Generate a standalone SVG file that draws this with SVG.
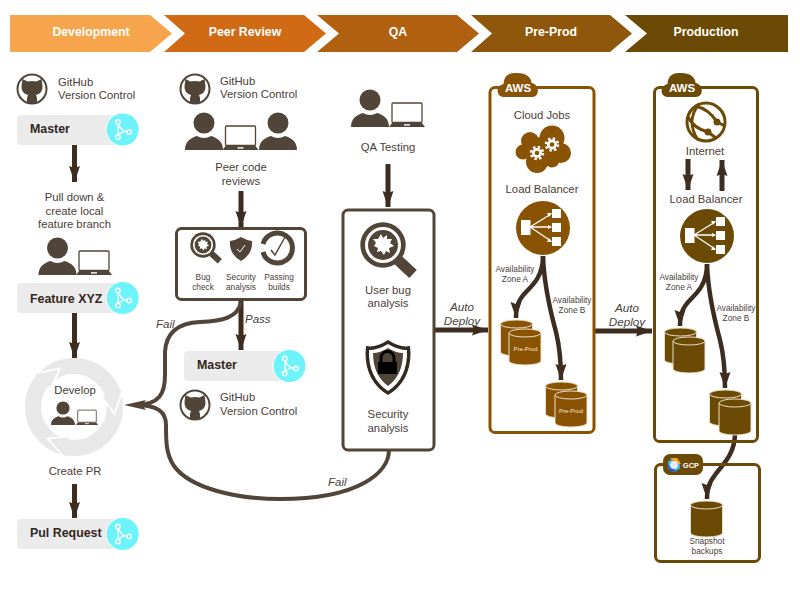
<svg xmlns="http://www.w3.org/2000/svg" width="800" height="600" viewBox="0 0 800 600">
<style>
text{font-family:"Liberation Sans",Arial,sans-serif;fill:#4a4038}
.h{font-size:12.300px;font-weight:bold;fill:#fff;text-anchor:middle}
.t{font-size:11.300px}
.c{font-size:11.300px;text-anchor:middle}
.s{font-size:8.300px;text-anchor:middle}
.i{font-size:11.500px;font-style:italic}
.ic{font-size:11.700px;font-style:italic;text-anchor:middle}
.b{font-size:12.400px;font-weight:bold;fill:#33261b}
.pill{fill:#ebebeb}
.arrow{fill:none;stroke:#3d2c20;stroke-width:5}
.thin{fill:none;stroke:#504538;stroke-width:4}
.curve{fill:none;stroke:#3d2c20;stroke-width:4.500}
.box{fill:#fff;stroke:#504538;stroke-width:3}
.aws1{fill:none;stroke:#8a5304;stroke-width:3}
.aws2{fill:none;stroke:#6b4a05;stroke-width:3}
.awst{font-size:11.500px;font-weight:bold;fill:#fff;text-anchor:middle}
.pp{font-size:6px;fill:#f3e8d5;text-anchor:middle}
</style>
<defs>
<marker id="head" markerUnits="userSpaceOnUse" markerWidth="18" markerHeight="12" refX="16" refY="6" orient="auto"><path d="M0,0.500 L16,6 L0,11.500 L2,6 Z" fill="#3d2c20"/></marker>
<symbol id="github" overflow="visible"><circle r="14.500" fill="#fff" stroke="#504538" stroke-width="2"/><path d="M-9.500,-10 L-4.500,-7.500 Q0,-8.500 4.500,-7.500 L9.500,-10 L10.500,-3 Q11,4 4,6 L5,9 L5,14 L-5,14 L-5,9 L-4,6 Q-11,4 -10.500,-3 Z" fill="#504538"/></symbol>
<symbol id="branch" overflow="visible"><circle r="16.500" fill="#6df3f9" stroke="#fff" stroke-width="1"/><g fill="none" stroke="#fff" stroke-width="1.400"><path d="M-4.500,-5.500 L-4.500,5.500 M-4,-5 Q-1,2 4.500,2.500 M-4.500,5 L1,2"/><circle cx="-4.700" cy="-7.500" r="2.200"/><circle cx="-4.700" cy="7.500" r="2.200"/><circle cx="6.500" cy="2.500" r="2.200"/></g></symbol>
<symbol id="person" overflow="visible"><circle cy="-27" r="10.500" fill="#504538"/><path d="M-19,0 C-19,-8 -14,-12 -7,-14 Q0,-10 7,-14 C14,-12 19,-8 19,0 Z" fill="#504538"/></symbol>
<symbol id="laptop" overflow="visible"><rect x="-15" y="-24" width="30" height="19.500" rx="1" fill="#fff" stroke="#504538" stroke-width="1.300"/><path d="M-18,0 L-15,-4 L15,-4 L18,0 Z" fill="#504538"/><rect x="-3" y="-2.800" width="6" height="1.400" fill="#fff"/></symbol>
<symbol id="lens" overflow="visible"><path d="M15,15 L30,29" stroke="#504538" stroke-width="11"/><circle r="22.700" fill="#504538"/><circle r="18" fill="#fff"/><circle r="15" fill="#504538"/><path d="M-2,-11 L0,-7 L4,-10 L4,-6 L9,-6 L7,-2 L11,1 L6,3 L7,8 L3,6 L1,10 L-2,6 L-6,7 L-5,3 L-9,1 L-7,-2 L-10,-6 L-5,-6 Z" fill="#fff"/></symbol>
<symbol id="gear" overflow="visible"><circle r="5" fill="#fff"/><circle r="6" fill="none" stroke="#fff" stroke-width="2.500" stroke-dasharray="2.400 2.310"/><circle r="2.300" fill="#8a5304"/></symbol>
<symbol id="aws" overflow="visible"><path d="M-13,10 C-22,10 -22,-1 -14,-3 C-13,-14 -6,-14 0,-14 C8,-14 14,-10 14,-4 C22,-3 23,10 14,10 Z"/></symbol>
<symbol id="lb" overflow="visible"><g fill="#fff"><rect x="-22" y="-8" width="9.500" height="15"/><rect x="9" y="-19" width="9" height="9"/><rect x="9" y="-5" width="9" height="9"/><rect x="9" y="9" width="9" height="9"/></g><path d="M-13,-1 L8,-14 M-13,-1 L8,-1 M-13,-1 L8,13" stroke="#fff" stroke-width="1.300" fill="none"/><path d="M9,-15 L4,-15 L6,-11 Z M9,-1 L5,-3 L5,1 Z M9,14 L6,10 L4,14 Z" fill="#fff"/></symbol>
<symbol id="cyl" overflow="visible"><path d="M-16,0 L-16,28 A16,4 0 0 0 16,28 L16,0 Z" stroke="#eadfc8" stroke-width="1"/><ellipse rx="16" ry="4" stroke="#eadfc8" stroke-width="1"/></symbol>
<symbol id="cychead" overflow="visible"><path d="M122.900,389.200 L114.400,414.100 L102.200,396.700 Z" fill="#e8e8e8"/><path d="M122.900,389.200 L114.400,414.100 L102.200,396.700" fill="none" stroke="#fff" stroke-width="1.800"/></symbol>
</defs>

<g id="headers">
<g id="h-development"><path d="M10,15 H150 L172,33.500 L150,52 H10 Z" fill="#f7a54c"/><text class="h" x="91" y="36">Development</text></g>
<g id="h-peer"><path d="M164,15 H304 L326,33.500 L304,52 H164 L185,33.500 Z" fill="#d16a14"/><text class="h" x="245" y="36">Peer Review</text></g>
<g id="h-qa"><path d="M317,15 H457 L479,33.500 L457,52 H317 L339,33.500 Z" fill="#b0600f"/><text class="h" x="398" y="36">QA</text></g>
<g id="h-preprod"><path d="M471,15 H610 L632,33.500 L610,52 H471 L492,33.500 Z" fill="#8f570b"/><text class="h" x="551" y="36">Pre-Prod</text></g>
<g id="h-production"><path d="M625,15 H788 V52 H625 L647,33.500 Z" fill="#6b4a05"/><text class="h" x="706" y="36">Production</text></g>
</g>

<g id="connectors">
<path class="arrow" marker-end="url(#head)" d="M74.500,145 V182"/>
<path class="arrow" marker-end="url(#head)" d="M74.500,313 V358"/>
<path class="arrow" marker-end="url(#head)" d="M74.500,484 V518"/>
<path class="arrow" marker-end="url(#head)" d="M241,191 V227"/>
<path class="arrow" marker-end="url(#head)" d="M241,300 V350"/>
<path class="arrow" marker-end="url(#head)" d="M388,164 V207"/>
<path class="arrow" marker-end="url(#head)" d="M434,330 H488"/>
<path class="arrow" marker-end="url(#head)" d="M594,331 H652"/>
<path class="arrow" marker-end="url(#head)" d="M688,159 V190"/>
<path class="arrow" marker-end="url(#head)" d="M722,191 V160"/>
<path class="thin" d="M241,302 C238,318 222,321 200,322 C178,323 166,333 165,352 L165,375 C165,393 160,405 135,405"/>
<path class="thin" d="M389,450 C389,472 360,499 280,499 C235,499 190,488 174,466 C166,454 166,442 166,425 C166,412 158,405 135,405"/>
<path d="M124,405 L146,400 L142,405 L146,410 Z" fill="#504538"/>
<path class="curve" marker-end="url(#head)" d="M543,256 C543,275 534,284 527,291 C520,298 516,304 516,318"/>
<path class="curve" marker-end="url(#head)" d="M543,256 C544,285 550,310 556,332 C560,348 561,360 561,380"/>
<path class="curve" marker-end="url(#head)" d="M707,264 C707,283 698,292 691,299 C684,306 680,312 680,326"/>
<path class="curve" marker-end="url(#head)" d="M707,264 C708,293 714,318 720,340 C724,356 725,368 725,388"/>
<path class="curve" marker-end="url(#head)" d="M735,433 C735,455 722,465 715,475 C709,483 707,488 707,499"/>
</g>

<g id="dev-github"><use href="#github" x="32" y="89"/><text class="t" x="58" y="86">GitHub</text><text class="t" x="58" y="99">Version Control</text></g>
<g id="dev-master"><rect class="pill" x="17" y="115" width="100" height="30" rx="4"/><text class="b" x="30" y="133">Master</text><use href="#branch" x="122.700" y="129.500"/></g>
<g id="dev-pull"><text class="c" x="74.500" y="201">Pull down &amp;</text><text class="c" x="74.500" y="215">create local</text><text class="c" x="74.500" y="228">feature branch</text><use href="#person" x="57.500" y="275"/><use href="#laptop" x="94" y="275"/></g>
<g id="dev-feature"><rect class="pill" x="17" y="283" width="100" height="30" rx="4"/><text class="b" x="30" y="303">Feature XYZ</text><use href="#branch" x="122.700" y="298"/></g>
<g id="dev-cycle">
<circle cx="74" cy="407" r="41" fill="none" stroke="#e8e8e8" stroke-width="16"/>
<use href="#cychead"/><use href="#cychead" transform="rotate(120 74 407)"/><use href="#cychead" transform="rotate(240 74 407)"/>
<text class="c" x="75" y="394">Develop</text>
<use href="#person" transform="translate(63,425) scale(.63)"/><use href="#laptop" transform="translate(87,425) scale(.62)"/>
<text class="c" x="75" y="475">Create PR</text></g>
<g id="dev-pr"><rect class="pill" x="17" y="519" width="100" height="30" rx="4"/><text class="b" x="30" y="537">Pul Request</text><use href="#branch" x="122.700" y="534"/></g>

<g id="peer-github"><use href="#github" x="195" y="89"/><text class="t" x="220" y="85">GitHub</text><text class="t" x="220" y="98">Version Control</text></g>
<g id="peer-people"><use href="#person" x="204" y="150"/><use href="#laptop" x="240.500" y="150"/><use href="#person" x="278" y="150"/><text class="c" x="241" y="171">Peer code</text><text class="c" x="241" y="185">reviews</text></g>
<g id="peer-checks"><rect class="box" x="176.500" y="228.500" width="129" height="71" rx="5"/>
<use href="#lens" transform="translate(203,245) scale(.56)"/>
<path d="M230,241 Q236,240 241,237 Q246,240 252,241 Q253,254 241,261 Q229,254 230,241 Z" fill="#504538"/><path d="M237,249 L240,252 L245,245" fill="none" stroke="#fff" stroke-width="1"/>
<path d="M263,244 A15,15 0 1 1 263,252" fill="none" stroke="#504538" stroke-width="5"/><path d="M271,250 L275,255 L285,237" fill="none" stroke="#504538" stroke-width="1.500"/>
<text class="s" x="203" y="280">Bug</text><text class="s" x="203" y="290">check</text><text class="s" x="241" y="280">Security</text><text class="s" x="241" y="290">analysis</text><text class="s" x="279" y="280">Passing</text><text class="s" x="279" y="290">builds</text></g>
<g id="peer-master"><rect class="pill" x="184" y="351" width="100" height="30" rx="4"/><text class="b" x="197" y="369">Master</text><use href="#branch" x="289.500" y="366"/></g>
<g id="peer-github2"><use href="#github" x="195" y="405"/><text class="t" x="220" y="401">GitHub</text><text class="t" x="220" y="415">Version Control</text></g>

<g id="qa-testing"><use href="#person" x="370" y="127"/><use href="#laptop" x="407" y="127"/><text class="c" x="388" y="151">QA Testing</text></g>
<g id="qa-box"><rect class="box" x="343" y="210" width="91" height="240" rx="5"/>
<use href="#lens" x="383" y="245"/><text class="c" x="388" y="294">User bug</text><text class="c" x="388" y="307">analysis</text>
<path d="M388,340 Q376,348 366,346 L365.500,354 Q366,382 388,395 Q410,382 410.500,354 L410,346 Q400,348 388,340 Z" fill="#33291f"/>
<path d="M388,344 Q378,350 369,350 Q368,378 388,391 Q408,378 407,350 Q398,350 388,344 Z" fill="#fff"/>
<path d="M388,348 Q380,353 373,353 Q373,375 388,386 Q403,375 403,353 Q396,353 388,348 Z" fill="#504538"/>
<rect x="378" y="362" width="19" height="12" fill="#000"/><path d="M381,362 V358 A6.500,6.500 0 0 1 394,358 V362" fill="none" stroke="#000" stroke-width="3"/>
<text class="c" x="388" y="418">Security</text><text class="c" x="388" y="432">analysis</text></g>

<g id="auto1"><text class="ic" x="462" y="311">Auto</text><text class="ic" x="462" y="325">Deploy</text></g>
<g id="auto2"><text class="ic" x="627" y="312">Auto</text><text class="ic" x="627" y="326">Deploy</text></g>
<g id="fail1"><text class="i" x="156" y="328">Fail</text></g>
<g id="pass"><text class="i" x="245" y="323">Pass</text></g>
<g id="fail2"><text class="i" x="328" y="486">Fail</text></g>

<g id="aws-preprod"><rect class="aws1" x="490" y="87.500" width="104" height="345" rx="5"/><use href="#aws" x="517.500" y="87" fill="#8a5304"/><text class="awst" x="518" y="92">AWS</text>
<text class="c" x="542" y="119">Cloud Jobs</text>
<g fill="#8a5304"><circle cx="552" cy="138" r="12.500"/><circle cx="530" cy="141" r="9"/><circle cx="523" cy="152" r="7.500"/><circle cx="537" cy="162" r="11"/><circle cx="561" cy="153" r="10"/><circle cx="552" cy="160" r="7.500"/><circle cx="542" cy="150" r="13"/></g><use href="#gear" x="537" y="153"/><use href="#gear" x="552" y="144.500"/>
<text class="c" x="542" y="193">Load Balancer</text></g>
<g id="lb1"><circle cx="543" cy="228" r="27" fill="#8a5304"/><use href="#lb" x="543" y="228"/></g>
<g id="az1"><text class="s" x="515" y="272">Availability</text><text class="s" x="515" y="282">Zone A</text><text class="s" x="572" y="303">Availability</text><text class="s" x="572" y="313">Zone B</text></g>
<g id="db1a" fill="#8a5304"><use href="#cyl" x="516.500" y="324"/><use href="#cyl" x="525" y="333"/><text class="pp" x="525.500" y="351">Pre-Prod</text></g>
<g id="db1b" fill="#8a5304"><use href="#cyl" x="561.500" y="386"/><use href="#cyl" x="571" y="395"/><text class="pp" x="571" y="413">Pre-Prod</text></g>

<g id="aws-prod"><rect class="aws2" x="654.500" y="87.500" width="103" height="354" rx="5"/><use href="#aws" x="681.500" y="87" fill="#6b4a05"/><text class="awst" x="682" y="92">AWS</text>
<g fill="none" stroke="#6b4a05" stroke-width="3"><circle cx="706" cy="122" r="19"/><path d="M695,106 C705,108 712,114 717,122 M688,117 C692,125 700,130 708,132 M699,104 C690,115 690,128 698,140 M708,132 L716,138 M717,122 L725,126"/></g><g fill="#6b4a05"><circle cx="717" cy="122" r="3.500"/><circle cx="708" cy="132" r="3.500"/></g>
<text class="c" x="705" y="155">Internet</text><text class="c" x="706" y="203">Load Balancer</text></g>
<g id="lb2"><circle cx="707" cy="236" r="27" fill="#6b4a05"/><use href="#lb" x="707" y="236"/></g>
<g id="az2"><text class="s" x="679" y="280">Availability</text><text class="s" x="679" y="290">Zone A</text><text class="s" x="736" y="311">Availability</text><text class="s" x="736" y="321">Zone B</text></g>
<g id="db2a" fill="#6b4a05"><use href="#cyl" x="680.500" y="332"/><use href="#cyl" x="689" y="341"/></g>
<g id="db2b" fill="#6b4a05"><use href="#cyl" x="725.500" y="394"/><use href="#cyl" x="735" y="403"/></g>

<g id="gcp"><rect class="aws2" x="655.500" y="464.500" width="104" height="97" rx="5"/><rect x="663" y="454" width="40" height="21" rx="7" fill="#6b4a05"/>
<path d="M674,458 L680,461.500 L680,468.500 L674,472 L668,468.500 L668,461.500 Z" fill="#29b6f6"/><path d="M670,458 L677,458 L681,464 L677,464 Z" fill="#f5a623"/><path d="M667,464 L670,471 L677,472 L671,467 Z" fill="#2b59d9"/><circle cx="674" cy="465" r="4" fill="#e8eaf0"/>
<text x="691" y="468" style="font-size:7.500px;font-weight:bold;fill:#fff;text-anchor:middle">GCP</text></g>
<g id="db3" fill="#6b4a05"><use href="#cyl" x="706.500" y="505"/><text class="s" x="707" y="544">Snapshot</text><text class="s" x="707" y="554">backups</text></g>
</svg>
